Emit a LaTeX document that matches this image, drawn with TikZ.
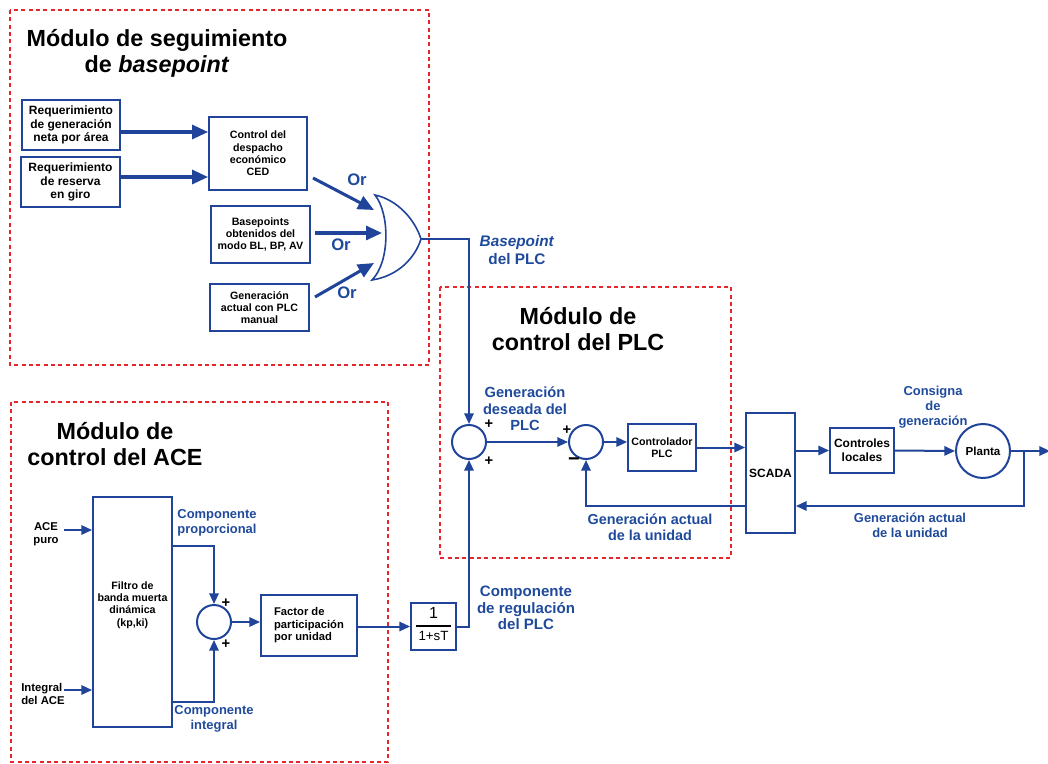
\documentclass[tikz,border=0pt]{standalone}
\usepackage{fontspec}
\setmainfont{Liberation Sans}
\usetikzlibrary{arrows.meta}
\definecolor{lineblue}{HTML}{1F449A}
\definecolor{lblblue}{HTML}{1F4A9C}
\definecolor{dotred}{HTML}{E6262B}

\begin{document}
\begin{tikzpicture}[x=0.75pt,y=-0.75pt,
  blk/.style={draw=lineblue, line width=1.4pt, fill=white, inner sep=0pt, align=center,
    font=\fontsize{8}{9.2}\selectfont\bfseries},
  bigtxt/.style={font=\fontsize{9}{10.1}\selectfont\bfseries},
  sumc/.style={circle, draw=lineblue, line width=1.5pt, minimum size=25.5pt, inner sep=0pt},
  wire/.style={lineblue, line width=1.5pt},
  flow/.style={lineblue, line width=1.5pt, -{Triangle[length=8pt,width=7pt]}},
  heavy/.style={lineblue, line width=2.3pt, -{Triangle[length=12pt,width=10.5pt]}},
  frame/.style={dotred, line width=1.6pt, dash pattern=on 3pt off 2.5pt},
  title/.style={font=\fontsize{17.5}{19.5}\selectfont\bfseries, align=center, inner sep=0pt},
  tag/.style={text=lblblue, font=\fontsize{11}{12.4}\selectfont\bfseries, align=center, inner sep=0pt},
  smalltag/.style={text=lblblue, font=\fontsize{9.7}{11.2}\selectfont\bfseries, align=center, inner sep=0pt},
  ortag/.style={text=lblblue, font=\fontsize{12.5}{13}\selectfont\bfseries, inner sep=0pt},
  intag/.style={font=\fontsize{8.5}{10}\selectfont\bfseries, inner sep=0pt},
  sign/.style={font=\fontsize{11}{11}\selectfont\bfseries, inner sep=0pt}]

\useasboundingbox (0,0) rectangle (1048,763);

% ---------------- dotted module frames ----------------
\draw[frame] (10,10) rectangle (429,365);
\draw[frame] (440,287) rectangle (731,558);
\draw[frame] (11,402) rectangle (388,762);

% ---------------- basepoint tracking module ----------------
\node[title] (t1) at (157,53) {Módulo de seguimiento\\de \textit{basepoint}};

\node[blk, bigtxt, minimum width=73.5pt, minimum height=37.5pt] (req1) at (71,125)
  {Requerimiento\\de generación\\neta por área};
\node[blk, bigtxt, minimum width=74.25pt, minimum height=37.5pt] (req2) at (70.5,182)
  {Requerimiento\\de reserva\\en giro};
\node[blk, minimum width=73.5pt, minimum height=54.75pt] (ced) at (258,153.5)
  {Control del\\despacho\\económico\\CED};
\node[blk, minimum width=74.25pt, minimum height=42.75pt] (bp) at (260.5,234.5)
  {Basepoints\\obtenidos del\\modo BL, BP, AV};
\node[blk, minimum width=74.25pt, minimum height=35.25pt] (gen) at (259.5,307.5)
  {Generación\\actual con PLC\\manual};

\coordinate (a1) at (0,132);
\coordinate (a2) at (0,177);
\draw[heavy] (req1.east |- a1) -- (ced.west |- a1);
\draw[heavy] (req2.east |- a2) -- (ced.west |- a2);

% OR gate
\draw[lineblue, line width=1.2pt, fill=white]
  (375,195) .. controls (390,214) and (390,262) .. (372,280)
  .. controls (398,276) and (415,258) .. (421,239)
  .. controls (415,220) and (398,200) .. (375,195) -- cycle;
\coordinate (orout) at (421,239);

\coordinate (o1s) at (313,178); \coordinate (o1e) at (374,210);
\coordinate (o2s) at (315,233); \coordinate (o2e) at (382,233);
\coordinate (o3s) at (315,297); \coordinate (o3e) at (374,263);
\draw[heavy] (o1s) -- (o1e);
\draw[heavy] (o2s) -- (o2e);
\draw[heavy] (o3s) -- (o3e);
\node[ortag] (or1) at (357,180) {Or};
\node[ortag] (or2) at (341,245) {Or};
\node[ortag] (or3) at (347,293) {Or};

\node[tag, font=\fontsize{11.5}{13.5}\selectfont\bfseries] (bptag) at (517,250) {\textit{Basepoint}\\del PLC};

% ---------------- PLC control module ----------------
\node[title] (t2) at (578,329) {Módulo de\\control del PLC};

\node[sumc] (sum1) at (469,442) {};
\node[sumc] (sum2) at (586,442) {};
\node[blk, minimum width=51pt, minimum height=35.25pt] (ctrl) at (662,447.5) {Controlador\\PLC};
\node[blk, bigtxt, minimum width=36.75pt, minimum height=90pt] (scada) at (770.5,473) {SCADA};
\node[blk, font=\fontsize{9}{10.5}\selectfont\bfseries, minimum width=48pt, minimum height=33.75pt]
  (cl) at (862,450.5) {Controles\\locales};
\node[circle, draw=lineblue, line width=1.5pt, minimum size=40.5pt, inner sep=0pt,
  font=\fontsize{8.7}{10}\selectfont\bfseries] (planta) at (983,451) {Planta};

\node[sign] (p1) at (489,424) {+};
\node[sign] (p2) at (489,461) {+};
\node[sign] (p3) at (567,430) {+};
\node[inner sep=0pt, font=\fontsize{15}{15}\selectfont\bfseries] (m1) at (574,462) {−};

\node[tag] (desired) at (525,409) {Generación\\deseada del\\PLC};
\node[tag, font=\fontsize{10.8}{12}\selectfont\bfseries] (fbtag1) at (650,527) {Generación actual\\de la unidad};
\node[smalltag] (consigna) at (933,407) {Consigna\\de\\generación};
\node[smalltag] (fbtag2) at (910,525) {Generación actual\\de la unidad};

\draw[flow] (orout) -| (sum1.north);
\draw[flow] (sum1.east) -- (sum2.west);
\draw[flow] (sum2.east) -- (ctrl.west |- sum2.east);
\draw[flow] (ctrl.east) -- (scada.west |- ctrl.east);
\draw[flow] (scada.east |- cl.west) -- (cl.west);
\draw[flow] (cl.east) -- (planta.west);
\coordinate (outend) at (1050,451);
\draw[flow] (planta.east) -- (outend);
\coordinate (tap) at (1024,451);
\coordinate (fb) at (0,506);
\draw[flow] (tap) |- (scada.east |- fb);
\draw[flow] (scada.west |- fb) -| (sum2.south);

% ---------------- ACE control module ----------------
\node[title] (t3) at (115,444) {Módulo de\\control del ACE};

\node[blk, minimum width=59.25pt, minimum height=172.5pt] (filt) at (132.5,612) {};
\node[inner sep=0pt, align=center, font=\fontsize{8}{9.2}\selectfont\bfseries] (filttxt) at (132.5,605)
  {Filtro de\\banda muerta\\dinámica\\(kp,ki)};
\node[sumc] (sum3) at (214,622) {};
\node[blk, align=left, font=\fontsize{8.4}{9.4}\selectfont\bfseries, minimum width=72pt, minimum height=45.75pt]
  (factor) at (309,625.5) {Factor de\\participación\\por unidad};
\node[blk, font=\fontsize{10}{11}\selectfont, minimum width=33.75pt, minimum height=35.25pt] (tf) at (433.5,626.5)
  {{\setlength\arrayrulewidth{1pt}\begin{tabular}{@{\,}c@{\,}}{\fontsize{12}{12}\selectfont 1}\\[1.5pt]\hline\rule{0pt}{10.5pt}1+sT\end{tabular}}};

\node[intag, align=center] (acepuro) at (46,534) {ACE\\puro};
\node[intag, align=left, anchor=west] (aceint) at (21,694) {Integral\\del ACE};
\coordinate (acein) at (64,530);
\coordinate (intin) at (64,690);
\draw[flow] (acein) -- (filt.west |- acein);
\draw[flow] (intin) -- (filt.west |- intin);

\coordinate (py) at (0,546);
\coordinate (iy) at (0,702);
\draw[flow] (filt.east |- py) -| (sum3.north);
\draw[flow] (filt.east |- iy) -| (sum3.south);
\draw[flow] (sum3.east) -- (factor.west |- sum3.east);
\draw[flow] (factor.east |- tf.west) -- (tf.west);
\draw[flow] (tf.east) -| (sum1.south);

\node[sign] (p4) at (226,603) {+};
\node[sign] (p5) at (226,644) {+};

\node[smalltag] (prop) at (217,523) {Componente\\proporcional};
\node[smalltag] (integ) at (214,719) {Componente\\integral};
\node[tag, font=\fontsize{11.3}{12.4}\selectfont\bfseries] (reg) at (526,608) {Componente\\de regulación\\del PLC};

\end{tikzpicture}
\end{document}
